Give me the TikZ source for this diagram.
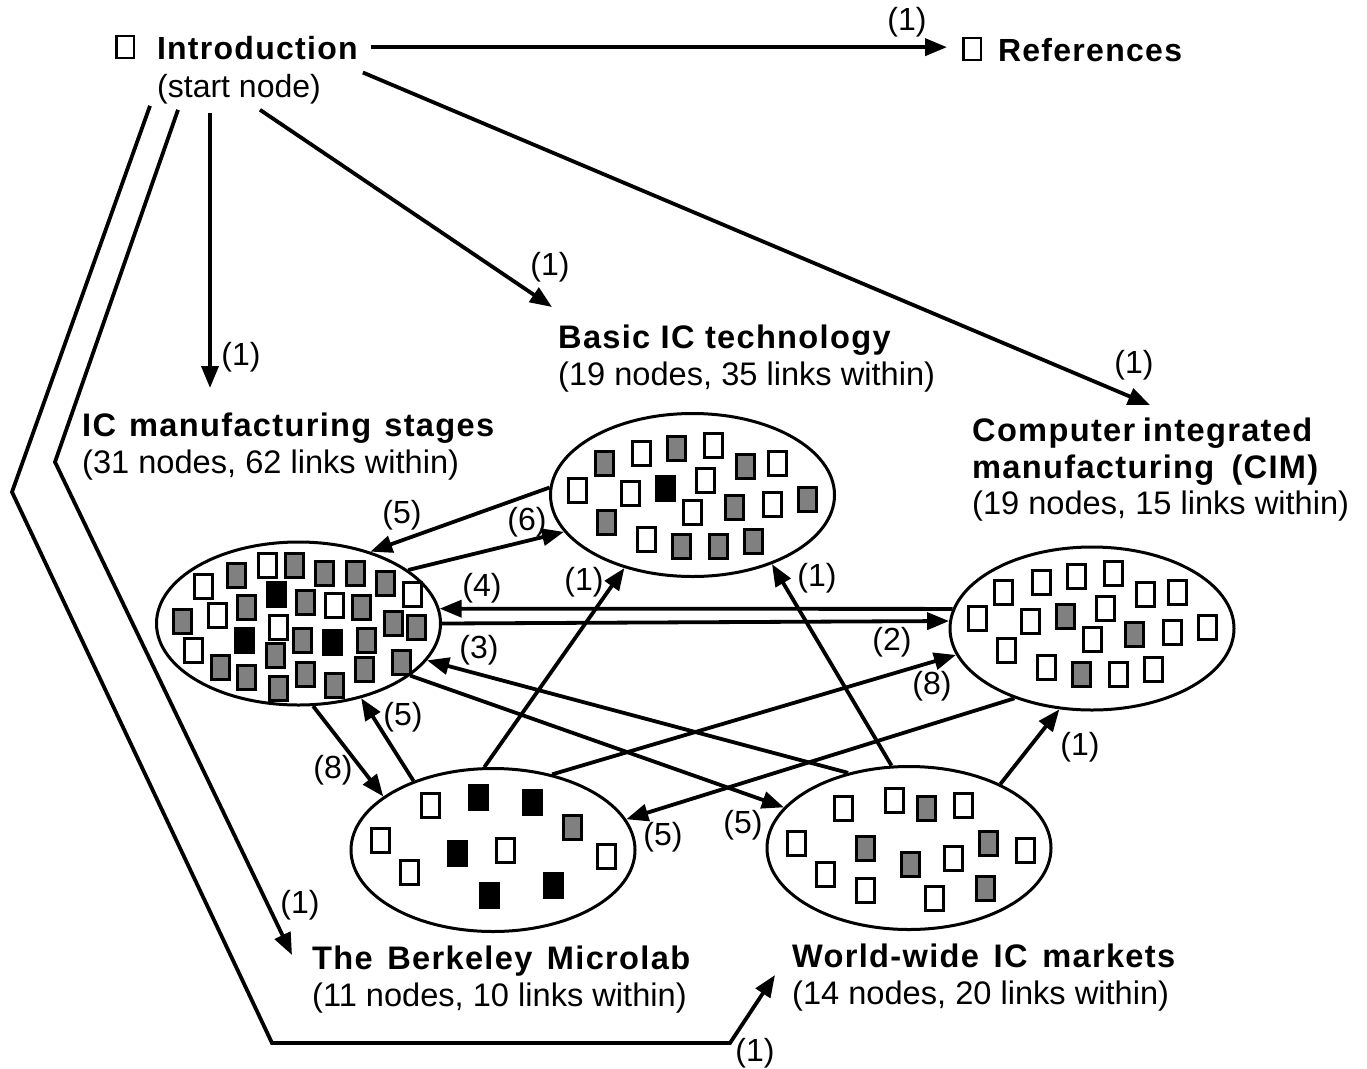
\documentclass[tikz,border=0pt]{standalone}
\usepackage{fontspec}
\setmainfont{Liberation Sans}
\newfontfamily\headfont{Liberation Sans}[LetterSpace=4]
\usetikzlibrary{arrows.meta,shapes.geometric}

\newcommand{\nobox}{\hbox{\vrule width 2.4pt height 24pt\vbox to 24pt{\hrule height 2.4pt width 15pt\vfil\hrule height 2.4pt width 15pt}\vrule width 2.4pt height 24pt}}
\newcommand{\hd}[1]{{\headfont\bfseries #1}}
\newcommand{\hdw}[2]{\hbox to #1{\headfont\bfseries #2}}

\tikzset{
  arr/.style={line width=3.8pt, -{Triangle[length=22pt,width=17pt]}},
  cluster/.style={ellipse, draw, line width=3pt, minimum width=284pt, minimum height=163pt, inner sep=0pt},
  info/.style={anchor=north west, align=left, inner sep=0pt, font=\fontsize{32.6}{36.5}\selectfont},
  num/.style={inner sep=0pt, font=\fontsize{32}{36}\selectfont},
  sq/.style={line width=3pt, draw=black},
}

\begin{document}
\begin{tikzpicture}[x=1pt, y=-1pt]
  \useasboundingbox (0,0) rectangle (1367,1068);

  % top row
  \node[num, anchor=base west] (intro) at (115,59) {\nobox\hspace{22pt}\hd{Introduction}};
  \node[num, anchor=base west] (start) at (157,97) {(start node)};
  \node[num, anchor=base west] (refs) at (962,61) {\nobox\hspace{16pt}\hd{References}};

  % cluster captions
  \node[info] (icm) at (82,413) {\hdw{412pt}{IC manufacturing stages}\\(31 nodes, 62 links within)};
  \node[info] (basict) at (558,325) {\hd{Basic IC technology}\\(19 nodes, 35 links within)};
  \node[info] (cimt) at (972,418) {\hdw{340pt}{Computer integrated}\\\hdw{346pt}{manufacturing (CIM)}\\(19 nodes, 15 links within)};
  \node[info] (berkt) at (312,946) {\hdw{378pt}{The Berkeley Microlab}\\(11 nodes, 10 links within)};
  \node[info] (worldt) at (792,944) {\hdw{383pt}{World-wide IC markets}\\(14 nodes, 20 links within)};

  % clusters
  \node[cluster] (ic) at (298.5,623.5) {};
  \node[cluster] (basic) at (692.5,495) {};
  \node[cluster] (cim) at (1092,628.5) {};
  \node[cluster] (berk) at (493,850) {};
  \node[cluster] (world) at (909,848) {};

  % pages inside the clusters
  \foreach \x/\y/\c in {203/586/white, 236/575/gray, 267/565/white, 294/565/gray, 324/573/gray,
      355/573/gray, 385/583/gray, 412/594/white, 276/594/black, 246/607/gray, 217/615/white,
      182/621/gray, 305/602/gray, 334/605/white, 361/607/gray, 393/623/gray, 416/627/gray,
      278/627/white, 244/640/black, 302/640/gray, 332/642/black, 366/640/gray, 193/650/white,
      220/667/gray, 275/655/gray, 401/662/gray, 246/677/gray, 305/674/gray, 364/669/gray,
      278/688/gray, 334/685/gray}
    \filldraw[sq, fill=\c] ({\x-9},{\y-12}) rectangle ++(18,24);
  \foreach \x/\y/\c in {604/463/gray, 641/453/white, 676/448/gray, 713/445/white, 745/466/gray,
      777/463/white, 577/490/white, 630/493/white, 665/488/black, 705/480/white, 692/512/white,
      734/507/gray, 772/504/white, 807/499/gray, 606/522/gray, 646/539/white, 681/546/gray,
      718/546/gray, 753/541/gray}
    \filldraw[sq, fill=\c] ({\x-9},{\y-12}) rectangle ++(18,24);
  \foreach \x/\y/\c in {1003/592/white, 1041/582/white, 1076/576/white, 1113/573/white,
      1145/594/white, 1177/592/white, 977/618/white, 1030/621/white, 1065/616/gray,
      1105/608/white, 1092/639/white, 1134/634/gray, 1172/632/white, 1207/627/white,
      1006/650/white, 1046/667/white, 1081/674/gray, 1118/674/white, 1153/669/white}
    \filldraw[sq, fill=\c] ({\x-9},{\y-12}) rectangle ++(18,24);
  \foreach \x/\y/\c in {430/805/white, 478/797/black, 532/802/black, 572/827/gray, 380/840/white,
      457/853/black, 505/850/white, 606/856/white, 409/872/white, 489/895/black, 553/885/black}
    \filldraw[sq, fill=\c] ({\x-9},{\y-12}) rectangle ++(18,24);
  \foreach \x/\y/\c in {843/808/white, 894/800/white, 926/808/gray, 963/805/white, 796/843/white,
      865/848/gray, 910/864/gray, 953/858/white, 988/843/gray, 1025/850/white, 825/874/white,
      865/890/white, 934/898/white, 985/888/gray}
    \filldraw[sq, fill=\c] ({\x-9},{\y-12}) rectangle ++(18,24);

  % links from the start node
  \draw[arr] ([xshift=13pt]intro.east) -- ([xshift=-15pt]refs.west |- intro.east);
  \draw[arr] ([xshift=53pt,yshift=-9pt]start.south west) -- ([xshift=128pt,yshift=25pt]icm.north west);
  \draw[arr] ([xshift=103pt,yshift=-6pt]start.south west) -- ([xshift=-6pt,yshift=18pt]basict.north west);
  \draw[arr] ([xshift=5pt,yshift=-13pt]intro.south east) -- ([xshift=178pt,yshift=13pt]cimt.north west);
  \draw[arr] ([xshift=21pt,yshift=-6pt]start.south west) -- (55,462)
    -- ([xshift=-20pt,yshift=-9pt]berkt.north west);
  \draw[arr] ([xshift=-7pt,yshift=-2pt]start.south west) -- (12,492) -- (272,1043) -- (730,1043)
    -- ([xshift=-17pt,yshift=-31pt]worldt.north west);

  % links between clusters
  \draw[arr] (basic.177.6) -- (ic.45);
  \draw[arr] (ic.26.2) -- (basic.196.4);
  \draw[arr] (cim.172.3) -- (ic.6.1);
  \draw[arr] (ic.0.8) -- (cim.177.6);
  \draw[arr] (world.129.1) -- (ic.344.2);
  \draw[arr] (ic.335.1) -- (world.162.2);
  \draw[arr] (berk.96) -- (basic.227.3);
  \draw[arr] (world.102.9) -- (basic.319.9);
  \draw[arr] (berk.52.4) -- (cim.191.3);
  \draw[arr] (cim.222.6) -- (berk.13.7);
  \draw[arr] (ic.280.1) -- (berk.154.6);
  \draw[arr] (berk.139.6) -- (ic.310.1);
  \draw[arr] (world.35) -- (cim.248.2);

  % link counts
  \node[num] (n-ref) at (907,22) {(1)};
  \node[num] (n-icm) at (241,357) {(1)};
  \node[num] (n-basic) at (550,267) {(1)};
  \node[num] (n-cim) at (1134,365) {(1)};
  \node[num] (n-berk) at (300,905) {(1)};
  \node[num] (n-world) at (755,1053) {(1)};
  \node[num] (n-ba-ic) at (402,515) {(5)};
  \node[num] (n-ic-ba) at (527,522) {(6)};
  \node[num] (n-ci-ic) at (482,588) {(4)};
  \node[num] (n-ic-ci) at (892,642) {(2)};
  \node[num] (n-wo-ic) at (479,650) {(3)};
  \node[num] (n-be-ba) at (584,582) {(1)};
  \node[num] (n-wo-ba) at (817,578) {(1)};
  \node[num] (n-be-ci) at (932,686) {(8)};
  \node[num] (n-ci-be) at (663,837) {(5)};
  \node[num] (n-ic-wo) at (743,825) {(5)};
  \node[num] (n-ic-be) at (333,770) {(8)};
  \node[num] (n-be-ic) at (403,717) {(5)};
  \node[num] (n-wo-ci) at (1080,747) {(1)};
\end{tikzpicture}
\end{document}
